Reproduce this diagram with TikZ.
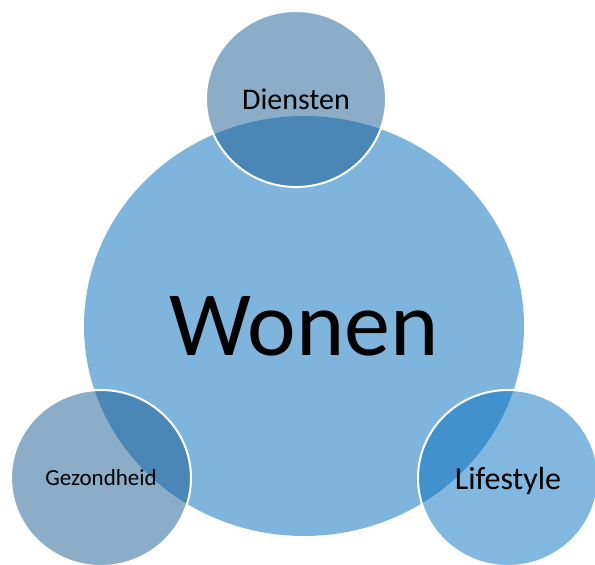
\documentclass[tikz,border=0pt]{standalone}
\usepackage{fontspec}
\setmainfont{Carlito}
\usepackage{tikz}
\usetikzlibrary{shapes.geometric}
\definecolor{wonenblue}{RGB}{127,181,221}
\definecolor{slateblue}{RGB}{19,87,142}
\definecolor{lifeblue}{RGB}{0,108,191}
\tikzset{
  bigcircle/.style={ellipse, fill=wonenblue, inner sep=0pt,
    minimum width=440pt, minimum height=420pt},
  smallcircle/.style={ellipse, draw=white, line width=2pt, inner sep=0pt,
    fill opacity=0.49, draw opacity=1, text opacity=1, text depth=0pt,
    minimum width=180pt, minimum height=176pt}
}

\begin{document}
\begin{tikzpicture}[x=1pt, y=-1pt]
  % --- Frame ---
  \clip (0,0) rectangle (595,565);

  % --- 1. Centre ---
  \node[bigcircle, font=\fontsize{92}{92}\selectfont] (wonen) at (304,326) {Wonen};

  % --- 2. Satellites ---
  \node[smallcircle, fill=slateblue, font=\fontsize{30}{30}\selectfont] (diensten) at (296,99) {Diensten};
  \node[smallcircle, fill=slateblue, font=\fontsize{23}{23}\selectfont] (gezondheid) at (101,478) {Gezondheid};
  \node[smallcircle, fill=lifeblue, font=\fontsize{32}{32}\selectfont] (lifestyle) at (508,478) {Lifestyle};
\end{tikzpicture}
\end{document}
